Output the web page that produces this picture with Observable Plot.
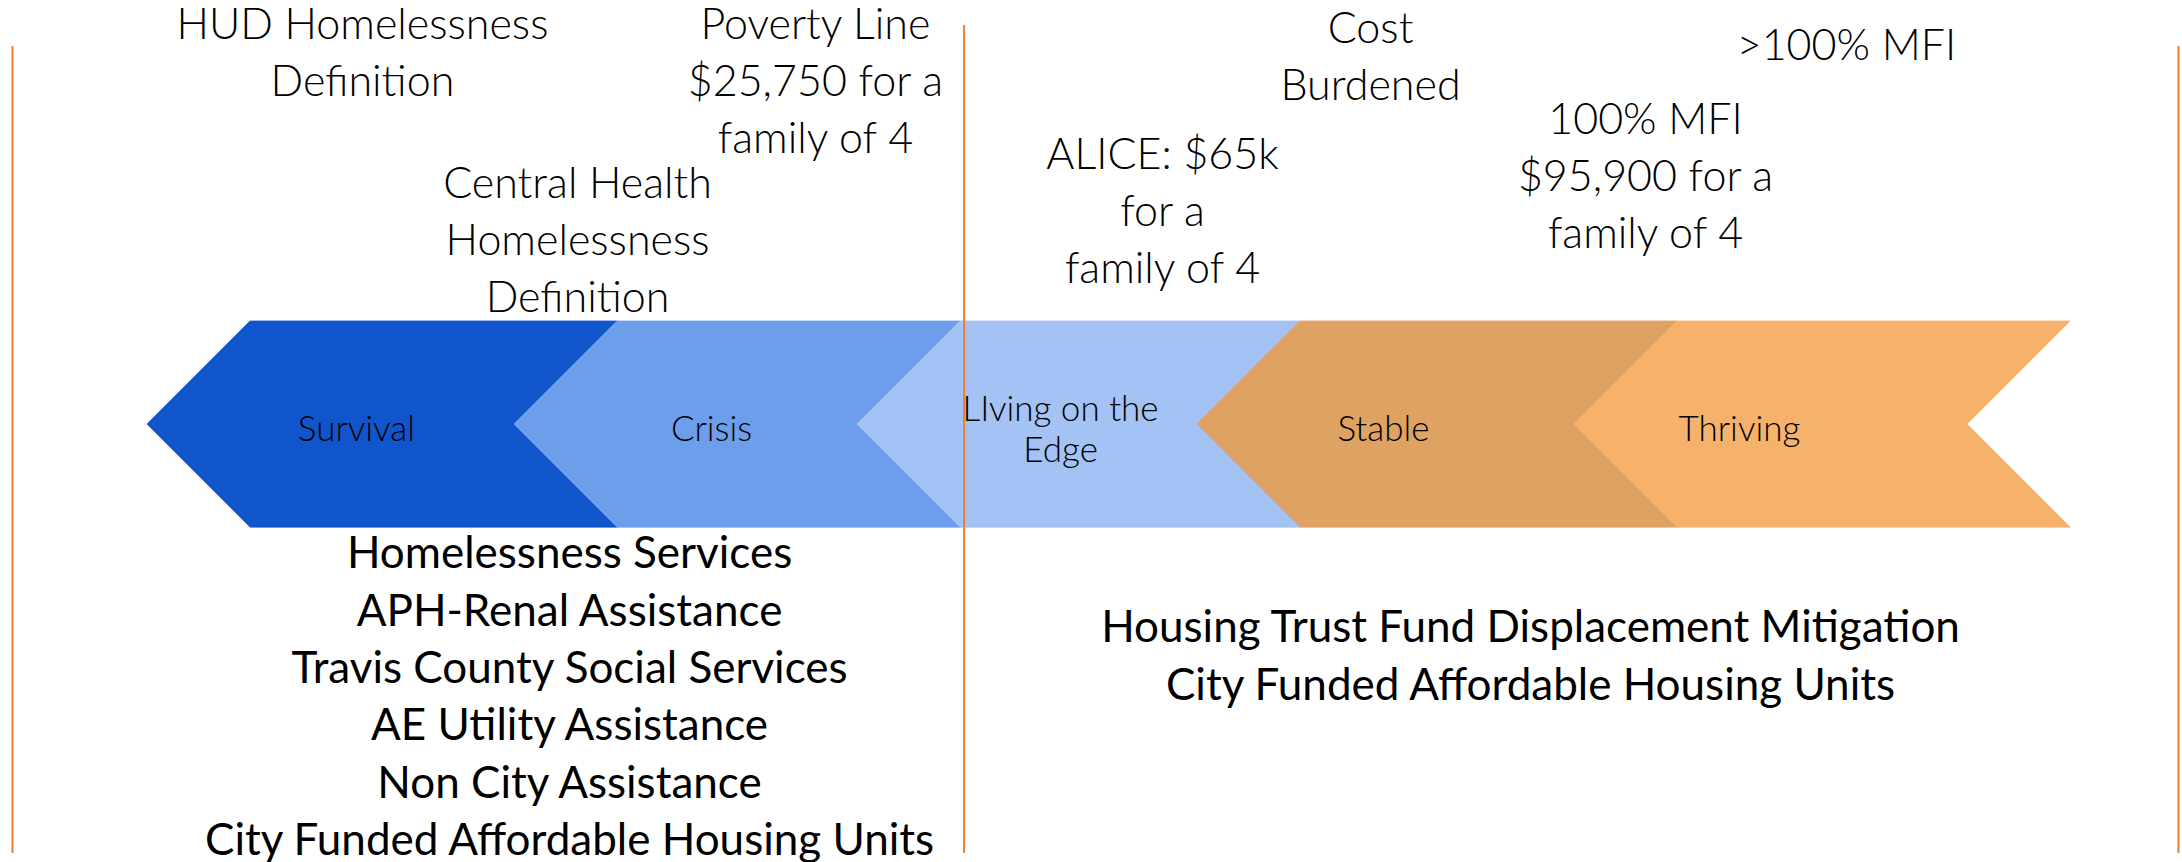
<!DOCTYPE html>
<html>
<head>
<meta charset="utf-8">
<script src="https://cdn.jsdelivr.net/npm/d3@7"></script>
<script src="https://cdn.jsdelivr.net/npm/@observablehq/plot@0.6"></script>
<style>
  html, body { margin: 0; padding: 0; background: #ffffff; overflow: hidden; }
  #chart svg { display: block; }
</style>
</head>
<body>
<div id="chart"></div>
<script>
// ---- Data ----
// Stages along the income spectrum (left = lowest income)
const stages = ["Survival", "Crisis", "LIving on the\nEdge", "Stable", "Thriving"];
// Where each stage starts/ends on the spectrum (share of total width)
const stageBreaks = [0, 0.2016, 0.3901, 0.5769, 0.7841, 1];
// Where each stage's label sits on the spectrum
const stageLabelAt = [0.0582, 0.2533, 0.4451, 0.6225, 0.8181];
const stageColors = ["#1155cc", "#6d9eeb", "#a4c2f4", "#dea263", "#f6b26b"];

// Threshold markers above the arrow
const markerText = [
  "HUD Homelessness\nDefinition",
  "Poverty Line\n$25,750 for a\nfamily of 4",
  "Central Health\nHomelessness\nDefinition",
  "ALICE: $65k\nfor a\nfamily of 4",
  "Cost\nBurdened",
  "100% MFI\n$95,900 for a\nfamily of 4",
  ">100% MFI"
];
const markerAt = [0.0615, 0.3104, 0.1797, 0.5011, 0.6154, 0.7665, 0.8769];
const markerLevel = [2.097, 1.820, 1.044, 1.189, 2.075, 1.359, 2.267];

// Programs serving each side of the divide
const lowerPrograms = [
  "Homelessness Services",
  "APH-Renal Assistance",
  "Travis County Social Services",
  "AE Utility Assistance",
  "Non City Assistance",
  "City Funded Affordable Housing Units"
];
const upperPrograms = [
  "Housing Trust Fund Displacement Mitigation",
  "City Funded Affordable Housing Units"
];
const lowerProgramsAt = 0.1753;
const upperProgramsAt = 0.7033;

// Divider lines (frame edges and the split between the two program groups)
const dividerAt = [-0.1308, 0.3921, 1.0593];
const dividerTop = [2.335, 2.437, 2.335];
const dividerBottom = -1.583;

// ---- Build ----
const notch = 0.0566; // depth of the chevron point, in spectrum units
const chevronPts = stages.flatMap((s, i) => {
  const a = stageBreaks[i], b = stageBreaks[i + 1];
  return [
    {stage: s, y: 0, x1: a, x2: b},
    {stage: s, y: 0.5, x1: a - notch, x2: b - notch},
    {stage: s, y: 1, x1: a, x2: b}
  ];
});
const stageLabels = stages.map((s, i) => ({stage: s, x: stageLabelAt[i]}));
const markers = markerText.map((t, i) => ({text: t, x: markerAt[i], y: markerLevel[i]}));
const dividers = dividerAt.map((x, i) => ({x, y1: dividerBottom, y2: dividerTop[i]}));

const chart = Plot.plot({
  width: 2182,
  height: 862,
  marginLeft: 250,
  marginRight: 112,
  marginTop: 321,
  marginBottom: 335,
  x: {domain: [0, 1], axis: null},
  y: {domain: [0, 1], axis: null},
  color: {type: "ordinal", domain: stages, range: stageColors},
  style: {background: "#ffffff", fontFamily: "Lato, 'Open Sans', sans-serif", overflow: "visible"},
  marks: [
    Plot.areaX(chevronPts, {x1: "x1", x2: "x2", y: "y", z: "stage", fill: "stage", stroke: "stage", strokeWidth: 0.8}),
    Plot.text(stageLabels, {x: "x", y: 0.5, text: "stage", fontSize: 35, fontWeight: 300, lineHeight: 1.15, dy: 4, fill: "#000"}),
    Plot.text(markers, {x: "x", y: "y", text: "text", lineAnchor: "bottom", fontSize: 43, fontWeight: 300, lineHeight: 1.326, fill: "#000"}),
    Plot.text([lowerPrograms.join("\n")], {x: lowerProgramsAt, y: 0, text: d => d, lineAnchor: "top", fontSize: 44, lineHeight: 1.3045, fill: "#000"}),
    Plot.text([upperPrograms.join("\n")], {x: upperProgramsAt, y: -0.36, text: d => d, lineAnchor: "top", fontSize: 44, lineHeight: 1.3045, fill: "#000"}),
    Plot.ruleX(dividers, {x: "x", y1: "y1", y2: "y2", stroke: "#ed7d31", strokeWidth: 2})
  ]
});
document.getElementById("chart").appendChild(chart);
</script>
</body>
</html>
